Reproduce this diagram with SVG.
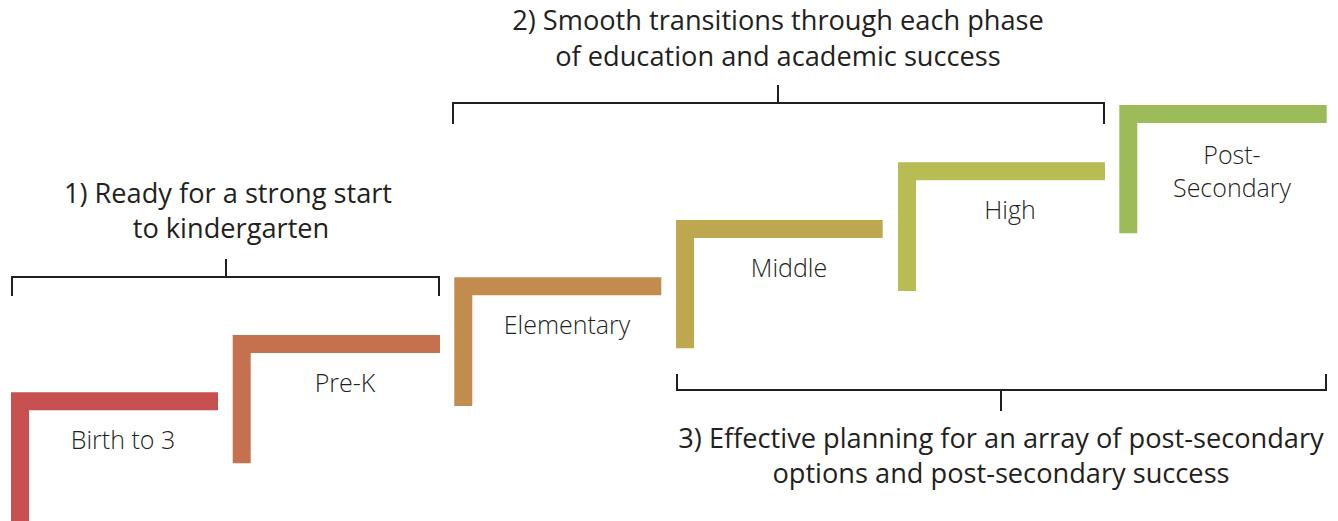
<svg xmlns="http://www.w3.org/2000/svg" width="1338" height="521" viewBox="0 0 1338 521">
<style>
.lbl{font-family:"Open Sans","Noto Sans",sans-serif;font-weight:300;font-size:25px;fill:#231f20;text-anchor:middle}
.hd{font-family:"Open Sans","Noto Sans",sans-serif;font-weight:400;font-size:27.2px;fill:#231f20;text-anchor:middle}
.br{fill:none;stroke:#231f20;stroke-width:2}
</style>
<rect width="1338" height="521" fill="#ffffff"/>
<g id="step-birth">
<path d="M11 392.3 H218 V410.3 H29 V521 H11 Z" fill="#c65150"/>
<text class="lbl" x="123" y="449">Birth to 3</text>
</g>
<g id="step-prek">
<path d="M232.7 335 H440 V353 H250.7 V463.3 H232.7 Z" fill="#c5714f"/>
<text class="lbl" x="345" y="392">Pre-K</text>
</g>
<g id="step-elementary">
<path d="M454.3 277.3 H661.3 V295.3 H472.3 V406 H454.3 Z" fill="#c18c4e"/>
<text class="lbl" x="567" y="334">Elementary</text>
</g>
<g id="step-middle">
<path d="M676 220 H882.7 V238 H694 V348.3 H676 Z" fill="#bea84f"/>
<text class="lbl" x="789" y="277">Middle</text>
</g>
<g id="step-high">
<path d="M898 162.3 H1105 V180.3 H916 V291 H898 Z" fill="#b7bc55"/>
<text class="lbl" x="1010" y="219">High</text>
</g>
<g id="step-postsecondary">
<path d="M1119.3 105 H1326.7 V123 H1137.3 V233.3 H1119.3 Z" fill="#9cbb59"/>
<text class="lbl" x="1232" y="164">Post-</text>
<text class="lbl" x="1232" y="197">Secondary</text>
</g>
<g id="connectors">
<path class="br" d="M12 296 V277 H439 V296 M226 277 V259"/>
<path class="br" d="M453 124 V103 H1104 V124 M778 103 V85"/>
<path class="br" d="M677 374 V390 H1326 V374 M1001 390 V411"/>
</g>
<g id="heading-1">
<text class="hd" x="228" y="203">1) Ready for a strong start</text>
<text class="hd" x="231" y="238">to kindergarten</text>
</g>
<g id="heading-2">
<text class="hd" x="778" y="30">2) Smooth transitions through each phase</text>
<text class="hd" x="778" y="66">of education and academic success</text>
</g>
<g id="heading-3">
<text class="hd" x="1001" y="448">3) Effective planning for an array of post-secondary</text>
<text class="hd" x="1001" y="483">options and post-secondary success</text>
</g>
</svg>
